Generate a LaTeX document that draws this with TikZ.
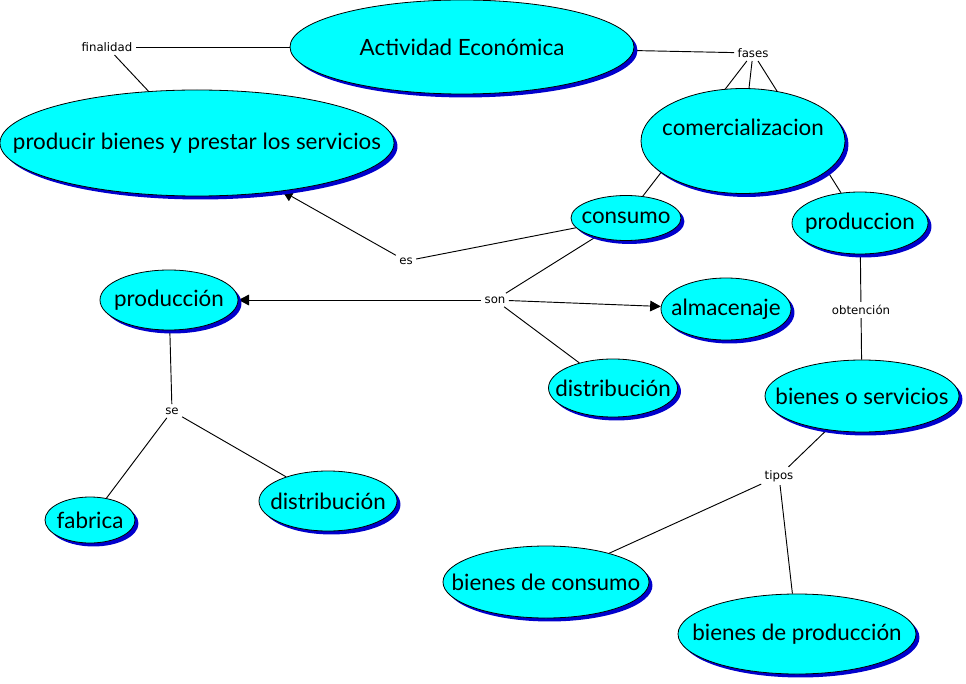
\documentclass[tikz,border=0pt]{standalone}
\usepackage{fontspec}
\setmainfont{Lato}
\newfontfamily\labfont{DejaVu Sans}
\usetikzlibrary{shapes.geometric,shadows,arrows.meta}
\pgfdeclarelayer{background}
\pgfsetlayers{background,main}
\definecolor{cfill}{RGB}{0,255,255}
\definecolor{cshadow}{RGB}{0,0,205}
\tikzset{
  concept/.style={ellipse, draw=black, line width=0.6pt, fill=cfill, inner sep=0pt,
    drop shadow={shadow xshift=2.6pt, shadow yshift=-2.6pt, fill=cshadow, opacity=1}},
  ctext/.style={font=\fontsize{16.8}{20}\selectfont, text=black},
  linklab/.style={font=\labfont\fontsize{8.8}{10}\selectfont, inner sep=2.4pt, text=black},
  conn/.style={draw=black, line width=0.7pt},
  arr/.style={conn, -{Triangle[length=8pt,width=8pt]}}
}
\begin{document}
\begin{tikzpicture}[x=0.75pt, y=-0.75pt]
\useasboundingbox (0,0) rectangle (966,684);
% concepts
\node[concept, minimum width=258pt, minimum height=70.5pt, label={[ctext]center:Actividad Económica}] (act) at (462,47) {};
\node[concept, minimum width=295.5pt, minimum height=79.5pt, label={[ctext]center:producir bienes y prestar los servicios}] (prod) at (197,143) {};
\node[concept, minimum width=153pt, minimum height=78.75pt, label={[ctext, yshift=10.5pt]center:comercializacion}] (com) at (743,141) {};
\node[concept, minimum width=82.5pt, minimum height=33.75pt, label={[ctext]center:consumo}] (cons) at (626,218) {};
\node[concept, minimum width=102pt, minimum height=46.5pt, label={[ctext]center:produccion}] (prodr) at (860,223) {};
\node[concept, minimum width=103.5pt, minimum height=45pt, label={[ctext]center:producción}] (prodl) at (169,300) {};
\node[concept, minimum width=97.5pt, minimum height=46.5pt, label={[ctext]center:almacenaje}] (alm) at (726,309) {};
\node[concept, minimum width=96.75pt, minimum height=43.5pt, label={[ctext]center:distribución}] (distm) at (613,388) {};
\node[concept, minimum width=145.5pt, minimum height=54pt, label={[ctext]center:bienes o servicios}] (bos) at (862,396) {};
\node[concept, minimum width=67.5pt, minimum height=34.5pt, label={[ctext]center:fabrica}] (fab) at (90,520) {};
\node[concept, minimum width=103.5pt, minimum height=45pt, label={[ctext]center:distribución}] (distl) at (328,501) {};
\node[concept, minimum width=154.5pt, minimum height=54pt, label={[ctext]center:bienes de consumo}] (bdc) at (546,582) {};
\node[concept, minimum width=178.5pt, minimum height=60pt, label={[ctext]center:bienes de producción}] (bdp) at (797,634) {};
% linking phrases
\node[linklab] (fin) at (107,47) {finalidad};
\node[linklab] (fas) at (753,53) {fases};
\node[linklab] (es) at (406,261) {es};
\node[linklab] (son) at (495,300) {son};
\node[linklab] (obt) at (861,310) {obtención};
\node[linklab] (se) at (172,411) {se};
\node[linklab] (tip) at (779,476) {tipos};
% connectors
\begin{pgfonlayer}{background}
\draw[conn] (act) -- (fin);
\draw[conn] (fin) -- (prod);
\draw[conn] (act) -- (fas);
\draw[conn] (fas) -- (cons);
\draw[conn] (fas) -- (com);
\draw[conn] (fas) -- (prodr);
\draw[conn] (cons) -- (es);
\draw[arr] (es) -- (prod);
\draw[conn] (cons) -- (son);
\draw[arr] (son) -- (prodl);
\draw[arr] (son) -- (alm);
\draw[conn] (son) -- (distm);
\draw[conn] (prodr) -- (obt);
\draw[conn] (obt) -- (bos);
\draw[conn] (bos) -- (tip);
\draw[conn] (tip) -- (bdc);
\draw[conn] (tip) -- (bdp);
\draw[conn] (prodl) -- (se);
\draw[conn] (se) -- (fab);
\draw[conn] (se) -- (distl);
\end{pgfonlayer}
\end{tikzpicture}
\end{document}
